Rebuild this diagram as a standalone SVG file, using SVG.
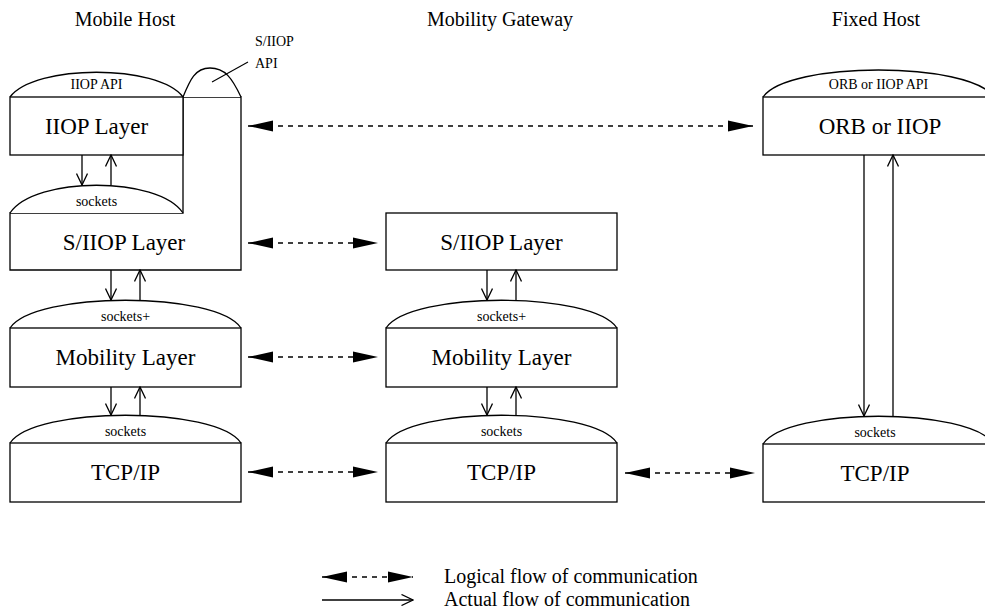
<svg xmlns="http://www.w3.org/2000/svg" width="985" height="616" viewBox="0 0 985 616">
  <defs>
    <style>
      .box { fill: #fff; stroke: #000; stroke-width: 1.3; }
      .cap { fill: #fff; stroke: #000; stroke-width: 1.3; }
      .lbl { font-family: "Liberation Serif", "Times New Roman", serif; font-size: 23px; text-anchor: middle; fill: #000; }
      .sm  { font-family: "Liberation Serif", "Times New Roman", serif; font-size: 14px; text-anchor: middle; fill: #000; }
      .ttl { font-family: "Liberation Serif", "Times New Roman", serif; font-size: 20px; text-anchor: middle; fill: #000; }
      .leg { font-family: "Liberation Serif", "Times New Roman", serif; font-size: 20px; fill: #000; }
      .note { font-family: "Liberation Serif", "Times New Roman", serif; font-size: 14px; fill: #000; }
      .act { fill: none; stroke: #000; stroke-width: 1.3; marker-end: url(#open); }
      .log { fill: none; stroke: #000; stroke-width: 1.3; stroke-dasharray: 5 5; marker-start: url(#solid); marker-end: url(#solid); }
    </style>
    <marker id="open" viewBox="0 0 13 12" refX="12" refY="6" markerWidth="13" markerHeight="12" orient="auto" markerUnits="userSpaceOnUse">
      <path d="M0.5,0.5 L12,6 L0.5,11.5" fill="none" stroke="#000" stroke-width="1.3"/>
    </marker>
    <marker id="solid" viewBox="0 0 25 12" refX="25" refY="6" markerWidth="25" markerHeight="12" orient="auto-start-reverse" markerUnits="userSpaceOnUse">
      <path d="M0,0.5 L25,6 L0,11.5 Z" fill="#000" stroke="none"/>
    </marker>
  </defs>
  <rect width="985" height="616" fill="#fff"/>

  <!-- column titles -->
  <text class="ttl" x="125" y="26">Mobile Host</text>
  <text class="ttl" x="500" y="26">Mobility Gateway</text>
  <text class="ttl" x="876" y="26">Fixed Host</text>

  <!-- Mobile host stack -->
  <g id="mh-siiop">
    <path class="box" d="M10,213 L183,213 L183,97 L241,97 L241,270 L10,270 Z"/>
    <path class="cap" d="M183,97 C190,80 195,68 210,68 C225,68 232,78 241,97"/>
    <text class="lbl" x="124" y="250">S/IIOP Layer</text>
  </g>
  <g id="mh-siiop-api-note">
    <line x1="212" y1="82" x2="248" y2="62" stroke="#000" stroke-width="1.1"/>
    <text class="note" x="255" y="46">S/IIOP</text>
    <text class="note" x="255" y="68">API</text>
  </g>
  <g id="mh-iiop">
    <path class="cap" d="M10,97 C35,64 158,64 183,97"/>
    <text class="sm" x="96.5" y="89">IIOP API</text>
    <rect class="box" x="10" y="97" width="173" height="58"/>
    <text class="lbl" x="96.5" y="134">IIOP Layer</text>
  </g>
  <g id="mh-sockets-top">
    <path class="cap" d="M10,213 C35,176 158,176 183,213"/>
    <text class="sm" x="96.5" y="206">sockets</text>
  </g>
  <g id="mh-mobility">
    <path class="cap" d="M10,328 C35,291 216,291 241,328"/>
    <text class="sm" x="125.5" y="321">sockets+</text>
    <rect class="box" x="10" y="328" width="231" height="59"/>
    <text class="lbl" x="125.5" y="365">Mobility Layer</text>
  </g>
  <g id="mh-tcpip">
    <path class="cap" d="M10,443 C35,406 216,406 241,443"/>
    <text class="sm" x="125.5" y="436">sockets</text>
    <rect class="box" x="10" y="443" width="231" height="59"/>
    <text class="lbl" x="125.5" y="480">TCP/IP</text>
  </g>

  <!-- Mobility gateway stack -->
  <g id="gw-siiop">
    <rect class="box" x="386" y="213" width="231" height="57"/>
    <text class="lbl" x="501.5" y="250">S/IIOP Layer</text>
  </g>
  <g id="gw-mobility">
    <path class="cap" d="M386,328 C411,291 592,291 617,328"/>
    <text class="sm" x="501.5" y="321">sockets+</text>
    <rect class="box" x="386" y="328" width="231" height="59"/>
    <text class="lbl" x="501.5" y="365">Mobility Layer</text>
  </g>
  <g id="gw-tcpip">
    <path class="cap" d="M386,443 C411,406 592,406 617,443"/>
    <text class="sm" x="501.5" y="436">sockets</text>
    <rect class="box" x="386" y="443" width="231" height="59"/>
    <text class="lbl" x="501.5" y="480">TCP/IP</text>
  </g>

  <!-- Fixed host stack -->
  <g id="fh-orb">
    <path class="cap" d="M763,97 C788,61 969,61 994,97"/>
    <text class="sm" x="878.5" y="89">ORB or IIOP API</text>
    <rect class="box" x="763" y="97" width="231" height="58"/>
    <text class="lbl" x="880" y="134">ORB or IIOP</text>
  </g>
  <g id="fh-tcpip">
    <path class="cap" d="M763,444 C788,407 969,407 994,444"/>
    <text class="sm" x="875" y="437">sockets</text>
    <rect class="box" x="763" y="444" width="231" height="58"/>
    <text class="lbl" x="875" y="481">TCP/IP</text>
  </g>

  <!-- connectors -->
  <g id="connectors">
    <!-- actual flow, within each stack -->
    <line class="act" x1="82" y1="155" x2="82" y2="185"/>
    <line class="act" x1="111" y1="185" x2="111" y2="155"/>
    <line class="act" x1="111" y1="270" x2="111" y2="300"/>
    <line class="act" x1="140" y1="300" x2="140" y2="270"/>
    <line class="act" x1="111" y1="387" x2="111" y2="415"/>
    <line class="act" x1="140" y1="415" x2="140" y2="387"/>

    <line class="act" x1="487" y1="270" x2="487" y2="300"/>
    <line class="act" x1="516" y1="300" x2="516" y2="270"/>
    <line class="act" x1="487" y1="387" x2="487" y2="415"/>
    <line class="act" x1="516" y1="415" x2="516" y2="387"/>

    <line class="act" x1="864" y1="155" x2="864" y2="416"/>
    <line class="act" x1="893" y1="416" x2="893" y2="155"/>

    <!-- logical flow, between peers -->
    <line class="log" x1="248" y1="126" x2="753" y2="126"/>
    <line class="log" x1="248" y1="243" x2="378" y2="243"/>
    <line class="log" x1="248" y1="357" x2="378" y2="357"/>
    <line class="log" x1="248" y1="472" x2="378" y2="472"/>
    <line class="log" x1="625" y1="473" x2="755" y2="473"/>
  </g>

  <!-- legend -->
  <g id="legend">
    <line class="log" x1="322" y1="577" x2="413" y2="577"/>
    <text class="leg" x="444" y="583">Logical flow of communication</text>
    <line class="act" x1="322" y1="600" x2="413" y2="600"/>
    <text class="leg" x="444" y="606">Actual flow of communication</text>
  </g>
</svg>
